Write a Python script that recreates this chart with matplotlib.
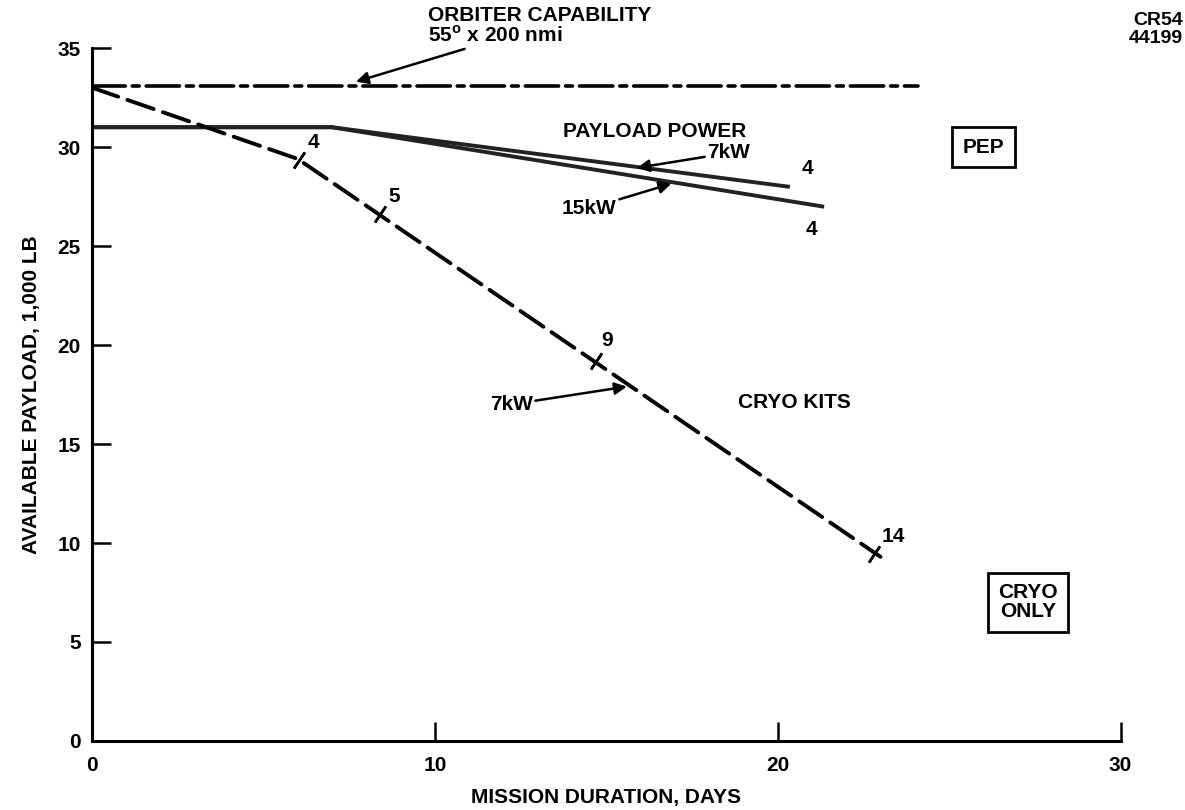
import matplotlib
matplotlib.use('Agg')
import matplotlib.pyplot as plt
import numpy as np

plt.rcParams['font.family'] = ['Liberation Sans', 'DejaVu Sans']
plt.rcParams['font.weight'] = 'bold'
plt.rcParams['axes.labelweight'] = 'bold'
plt.rcParams['lines.scale_dashes'] = False

# orbiter capability (55 deg x 200 nmi)
orbiter_days = [0, 24.1]
orbiter_payload = [33.1, 33.1]

# payload power (PEP) lines
pep7_days = [0, 7, 20.3]
pep7_payload = [31.0, 31.0, 28.0]
pep15_days = [0, 7, 21.3]
pep15_payload = [31.0, 31.0, 27.0]

# cryo kits, 7kW
cryo_days = [0, 6.0, 23.0]
cryo_payload = [33.0, 29.4, 9.3]

# number of cryo kits along the cryo line
kit_days = [6.05, 8.4, 14.7, 22.8]
kit_payload = [29.35, 26.6, 19.2, 9.45]
kit_labels = ['4', '5', '9', '14']

# number of kits at end of PEP lines
pep_kit_labels = ['4', '4']

fs = 15

fig = plt.figure(figsize=(11.85, 8.1), dpi=100)
ax = fig.add_axes([0.0776, 0.0852, 0.868, 0.8555])

# orbiter capability - long/short dash
ax.plot(orbiter_days, orbiter_payload, color='black', lw=2.6,
        dashes=(24, 5, 5, 5), dash_capstyle='round')

ax.plot(pep7_days, pep7_payload, color='#222222', lw=2.8)
ax.plot(pep15_days, pep15_payload, color='#222222', lw=2.8)

ax.plot(cryo_days, cryo_payload, color='black', lw=2.8,
        dashes=(20, 7), dash_capstyle='round')

# kit tick marks on the cryo line
ax.plot(kit_days, kit_payload, linestyle='none', marker=(2, 2, -34),
        markersize=14, mec='black', mew=1.8)
off = [(6, 6), (6, 6), (4, 8), (6, 6)]
for d, p, s, o in zip(kit_days, kit_payload, kit_labels, off):
    ax.annotate(s, (d, p), xytext=o, textcoords='offset points',
                fontsize=fs, ha='left', va='bottom')

# kit counts at ends of PEP lines
ax.annotate(pep_kit_labels[0], (pep7_days[-1], pep7_payload[-1]), xytext=(10, 6),
            textcoords='offset points', fontsize=fs, ha='left', va='bottom')
ax.annotate(pep_kit_labels[1], (pep15_days[-1], pep15_payload[-1]), xytext=(-8, -10),
            textcoords='offset points', fontsize=fs, ha='center', va='top')

arrow = dict(arrowstyle='-|>', color='black', lw=1.8, mutation_scale=18,
             shrinkA=0, shrinkB=0)

ax.annotate('ORBITER CAPABILITY\n55$^\\mathregular{o}$ x 200 nmi', xy=(7.7, 33.3),
            xytext=(9.8, 36.1), fontsize=fs, ha='left', va='center',
            linespacing=1.0, arrowprops=arrow, annotation_clip=False)

ax.text(16.4, 30.8, 'PAYLOAD POWER', fontsize=fs, ha='center', va='center')
ax.annotate('7kW', xy=(15.9, 28.95), xytext=(17.95, 29.7), fontsize=fs,
            ha='left', va='center', arrowprops=arrow)
ax.annotate('15kW', xy=(16.9, 28.15), xytext=(15.3, 26.9), fontsize=fs,
            ha='right', va='center', arrowprops=arrow)

ax.annotate('7kW', xy=(15.6, 17.9), xytext=(12.85, 17.0), fontsize=fs,
            ha='right', va='center', arrowprops=arrow)
ax.text(20.5, 17.1, 'CRYO KITS', fontsize=fs, ha='center', va='center')

box = dict(boxstyle='square,pad=0.5', fc='white', ec='black', lw=2)
ax.text(26.0, 30.0, 'PEP', fontsize=fs, ha='center', va='center', bbox=box)
ax.text(27.3, 7.0, 'CRYO\nONLY', fontsize=fs, ha='center', va='center',
        linespacing=1.0, bbox=box)

fig.text(0.998, 0.985, 'CR54\n44199', fontsize=14, ha='right', va='top',
         linespacing=1.1)

ax.set_xlim(0, 30)
ax.set_ylim(0, 35)
ax.set_xticks([0, 10, 20, 30])
ax.set_yticks([0, 5, 10, 15, 20, 25, 30, 35])
ax.tick_params(axis='both', direction='in', length=14, width=1.8,
               labelsize=fs, pad=8)
ax.tick_params(axis='x', pad=11)
for s in ['top', 'right']:
    ax.spines[s].set_visible(False)
for s in ['left', 'bottom']:
    ax.spines[s].set_linewidth(2.2)

ax.set_xlabel('MISSION DURATION, DAYS', fontsize=fs, labelpad=9)
ax.set_ylabel('AVAILABLE PAYLOAD, 1,000 LB', fontsize=fs, labelpad=12)

fig.savefig('out.png', dpi=100, facecolor='white')
